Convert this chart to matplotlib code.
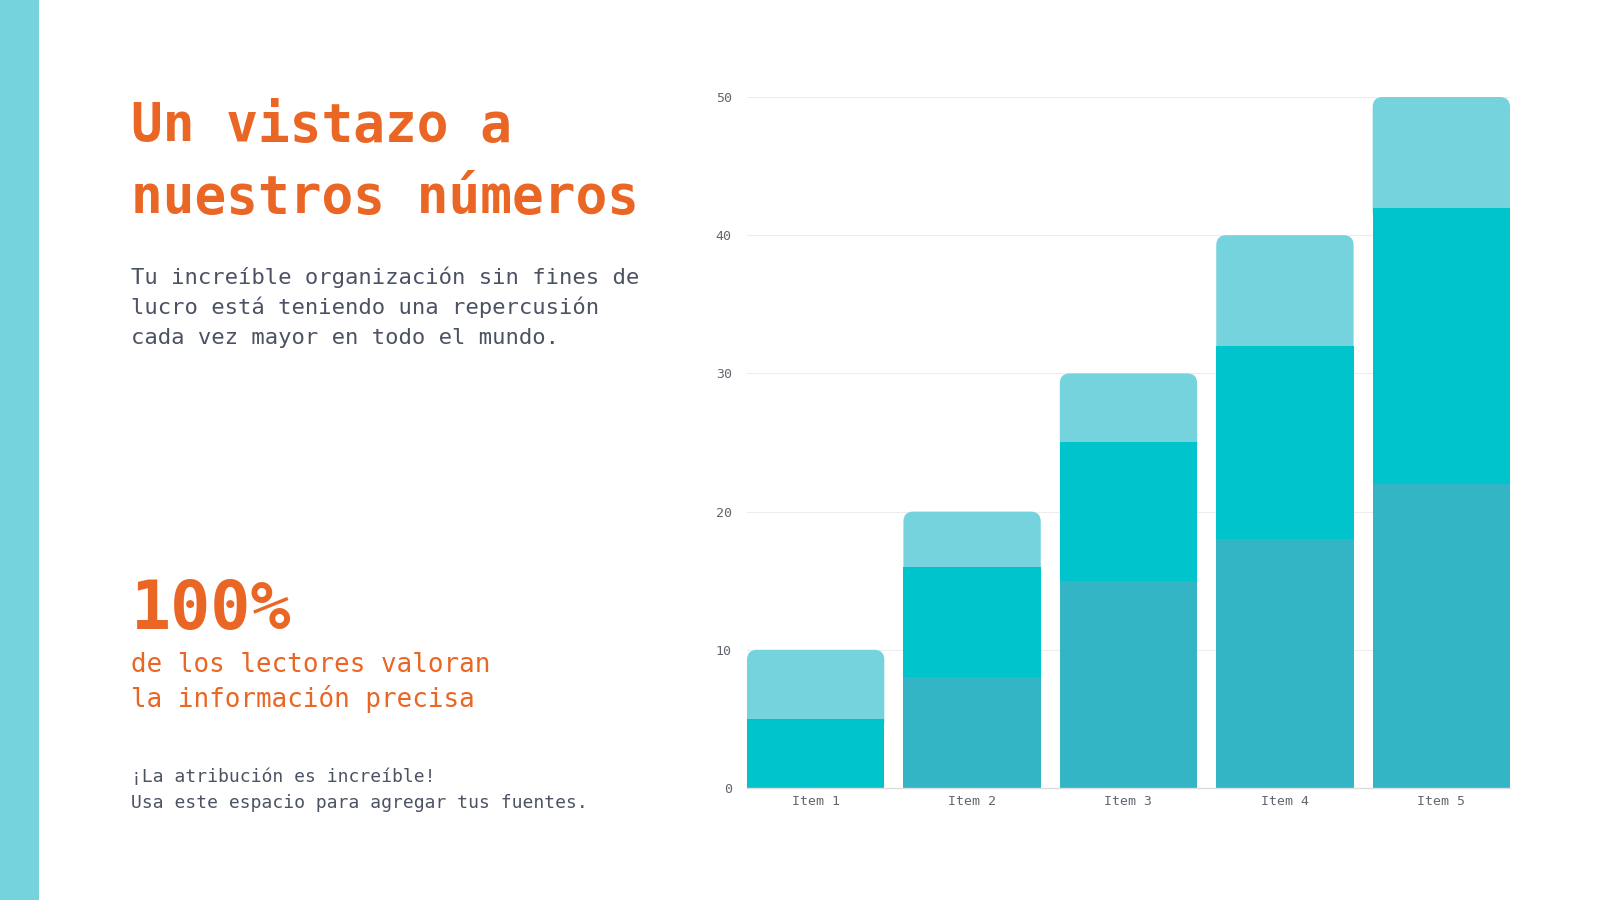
import matplotlib.pyplot as plt
from matplotlib.patches import FancyBboxPatch, Rectangle

# Data
items = ["Item 1", "Item 2", "Item 3", "Item 4", "Item 5"]
serie_base = [0, 8, 15, 18, 22]
serie_media = [5, 8, 10, 14, 20]
serie_alta = [5, 4, 5, 8, 8]
y_ticks = [0, 10, 20, 30, 40, 50]

# Colours
ORANGE = "#EA6624"
GRAY = "#4B5263"
TICK_GRAY = "#62666E"
DARK = "#33B5C5"
BRIGHT = "#00C4CC"
LIGHT = "#74D3DC"

W, H = 1600, 900
plt.rcParams["font.family"] = ["DejaVu Sans Mono"]

fig = plt.figure(figsize=(W / 100, H / 100), dpi=100)
fig.patch.set_facecolor("white")

# left stripe
fig.patches.append(Rectangle((0, 0), 39 / W, 1, transform=fig.transFigure,
                             facecolor=LIGHT, edgecolor="none"))


def px(x, y):
    return x / W, 1 - y / H


# Left text block
fig.text(*px(131, 141), "Un vistazo a", fontsize=38, weight="bold",
         color=ORANGE, va="baseline")
fig.text(*px(131, 213), "nuestros números", fontsize=38, weight="bold",
         color=ORANGE, va="baseline")

subtitle = ["Tu increíble organización sin fines de",
            "lucro está teniendo una repercusión",
            "cada vez mayor en todo el mundo."]
for i, line in enumerate(subtitle):
    fig.text(*px(131, 284 + 30 * i), line, fontsize=16, color=GRAY, va="baseline")

fig.text(*px(131, 629), "100%", fontsize=48, weight="bold", color=ORANGE,
         va="baseline")
fig.text(*px(131, 672), "de los lectores valoran", fontsize=18.6,
         color=ORANGE, va="baseline")
fig.text(*px(131, 707), "la información precisa", fontsize=18.6,
         color=ORANGE, va="baseline")

fig.text(*px(131, 782), "¡La atribución es increíble!", fontsize=13,
         color=GRAY, va="baseline")
fig.text(*px(131, 808), "Usa este espacio para agregar tus fuentes.",
         fontsize=13, color=GRAY, va="baseline")

# Chart
left, right, top, bottom = 747, 1510, 97, 788
ax = fig.add_axes([left / W, 1 - bottom / H, (right - left) / W, (bottom - top) / H])
xs = list(range(len(items)))
bw = 0.878
ax.set_xlim(-0.439, len(items) - 1 + 0.439)
ax.set_ylim(0, 50)

ax.bar(xs, serie_base, width=bw, color=DARK, zorder=3, linewidth=0)
ax.bar(xs, serie_media, width=bw, bottom=serie_base, color=BRIGHT, zorder=3,
       linewidth=0)

# rounded top segment
x_px = (right - left) / (ax.get_xlim()[1] - ax.get_xlim()[0])
y_px = (bottom - top) / 50
radius_px = 10
rx = radius_px / x_px
aspect = x_px / y_px
for x, b, m, t in zip(xs, serie_base, serie_media, serie_alta):
    start = b + m
    patch = FancyBboxPatch((x - bw / 2, start - 1), bw, t + 1,
                           boxstyle=f"round,pad=0,rounding_size={rx}",
                           mutation_aspect=aspect, facecolor=LIGHT,
                           edgecolor="none", zorder=2, clip_on=False)
    ax.add_patch(patch)

ax.set_yticks(y_ticks)
ax.set_xticks(xs)
ax.set_xticklabels(items)
ax.tick_params(axis="y", length=0, pad=11, labelsize=9.5, labelcolor=TICK_GRAY)
ax.tick_params(axis="x", length=0, pad=5, labelsize=9.5, labelcolor=TICK_GRAY)
ax.grid(axis="y", color="#EDEDED", linewidth=0.8, zorder=0)
ax.set_axisbelow(True)
for s in ["top", "right", "left"]:
    ax.spines[s].set_visible(False)
ax.spines["bottom"].set_color("#DDDDDD")
ax.spines["bottom"].set_linewidth(1)
ax.spines["bottom"].set_zorder(4)

fig.savefig("out.png", dpi=100, facecolor="white")
